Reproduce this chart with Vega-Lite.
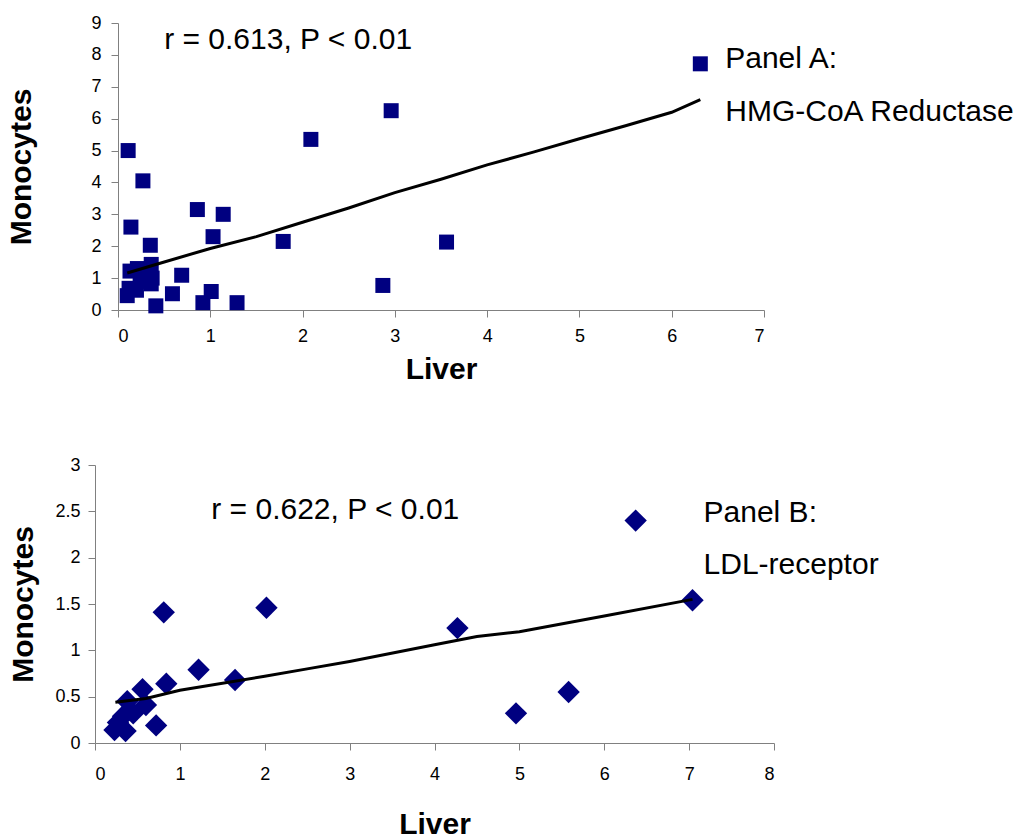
{
  "$schema": "https://vega.github.io/schema/vega-lite/v6.json",
  "background": "white",
  "padding": {"left": 6, "top": 14, "right": 2, "bottom": 0},
  "config": {
    "view": {"stroke": null},
    "axis": {
      "grid": false,
      "domainColor": "#808080",
      "tickColor": "#808080",
      "tickSize": 7,
      "labelOverlap": false,
      "labelFont": "Liberation Sans",
      "labelFontSize": 18,
      "labelColor": "black",
      "titleFont": "Liberation Sans",
      "titleFontSize": 30,
      "titleFontWeight": "bold",
      "titleColor": "black"
    },
    "text": {"font": "Liberation Sans", "fontSize": 30, "color": "black"}
  },
  "datasets": {
    "panelA": [
      {"liver": 6.31, "monocytes": 7.72},
      {"liver": 2.96, "monocytes": 6.25},
      {"liver": 2.09, "monocytes": 5.35},
      {"liver": 0.11, "monocytes": 5.0},
      {"liver": 0.27, "monocytes": 4.05},
      {"liver": 0.86, "monocytes": 3.15},
      {"liver": 1.14, "monocytes": 3.0},
      {"liver": 0.14, "monocytes": 2.6},
      {"liver": 1.03, "monocytes": 2.3},
      {"liver": 0.35, "monocytes": 2.03},
      {"liver": 1.79, "monocytes": 2.15},
      {"liver": 3.56, "monocytes": 2.13},
      {"liver": 2.87, "monocytes": 0.77},
      {"liver": 0.69, "monocytes": 1.09},
      {"liver": 0.59, "monocytes": 0.51},
      {"liver": 1.01, "monocytes": 0.58},
      {"liver": 0.92, "monocytes": 0.23},
      {"liver": 1.29, "monocytes": 0.23},
      {"liver": 0.41, "monocytes": 0.13},
      {"liver": 0.10, "monocytes": 0.45},
      {"liver": 0.12, "monocytes": 0.68},
      {"liver": 0.13, "monocytes": 1.22},
      {"liver": 0.21, "monocytes": 1.3},
      {"liver": 0.24, "monocytes": 0.9},
      {"liver": 0.30, "monocytes": 1.18},
      {"liver": 0.36, "monocytes": 1.43},
      {"liver": 0.37, "monocytes": 1.0},
      {"liver": 0.36, "monocytes": 0.82},
      {"liver": 0.20, "monocytes": 0.62}
    ],
    "trendA": [
      {"liver": 0.1, "monocytes": 1.16},
      {"liver": 0.4, "monocytes": 1.42},
      {"liver": 1.0, "monocytes": 1.93},
      {"liver": 1.5, "monocytes": 2.3},
      {"liver": 2.0, "monocytes": 2.75},
      {"liver": 2.5, "monocytes": 3.2},
      {"liver": 3.0, "monocytes": 3.68},
      {"liver": 3.5, "monocytes": 4.1},
      {"liver": 4.0, "monocytes": 4.55},
      {"liver": 4.5, "monocytes": 4.95},
      {"liver": 5.0, "monocytes": 5.37},
      {"liver": 5.5, "monocytes": 5.78},
      {"liver": 6.0, "monocytes": 6.2},
      {"liver": 6.31, "monocytes": 6.6}
    ],
    "textA": [
      {"liver": 0.5, "monocytes": 8.47, "label": "r = 0.613, P < 0.01"},
      {"liver": 6.58, "monocytes": 7.87, "label": "Panel A:"},
      {"liver": 6.58, "monocytes": 6.2, "label": "HMG-CoA Reductase"}
    ],
    "panelB": [
      {"liver": 0.81, "monocytes": 1.41},
      {"liver": 2.02, "monocytes": 1.46},
      {"liver": 1.22, "monocytes": 0.79},
      {"liver": 1.65, "monocytes": 0.68},
      {"liver": 0.84, "monocytes": 0.64},
      {"liver": 0.56, "monocytes": 0.58},
      {"liver": 0.38, "monocytes": 0.45},
      {"liver": 0.6, "monocytes": 0.41},
      {"liver": 0.45, "monocytes": 0.32},
      {"liver": 0.33, "monocytes": 0.29},
      {"liver": 0.27, "monocytes": 0.22},
      {"liver": 0.72, "monocytes": 0.19},
      {"liver": 0.23, "monocytes": 0.14},
      {"liver": 0.36, "monocytes": 0.13},
      {"liver": 4.27, "monocytes": 1.24},
      {"liver": 4.96, "monocytes": 0.32},
      {"liver": 5.58, "monocytes": 0.55},
      {"liver": 6.37, "monocytes": 2.4},
      {"liver": 7.04, "monocytes": 1.54}
    ],
    "trendB": [
      {"liver": 0.24, "monocytes": 0.44},
      {"liver": 0.6, "monocytes": 0.48},
      {"liver": 1.0, "monocytes": 0.57},
      {"liver": 2.0, "monocytes": 0.72},
      {"liver": 2.5, "monocytes": 0.8},
      {"liver": 3.0, "monocytes": 0.88},
      {"liver": 4.0, "monocytes": 1.06},
      {"liver": 4.5, "monocytes": 1.15},
      {"liver": 5.0, "monocytes": 1.2},
      {"liver": 6.0, "monocytes": 1.37},
      {"liver": 7.04, "monocytes": 1.55}
    ],
    "textB": [
      {"liver": 1.37, "monocytes": 2.51, "label": "r = 0.622, P < 0.01"},
      {"liver": 7.17, "monocytes": 2.48, "label": "Panel B:"},
      {"liver": 7.17, "monocytes": 1.92, "label": "LDL-receptor"}
    ]
  },
  "concat": [
    {
      "width": 669,
      "height": 287,
      "layer": [
        {
          "data": {"name": "panelA"},
          "mark": {"type": "point", "shape": "square", "filled": true, "size": 225, "color": "#000080", "opacity": 1},
          "encoding": {
            "x": {"field": "liver", "type": "quantitative", "scale": {"domain": [0, 7], "nice": false, "range": [23, 669]},
                  "axis": {"title": "Liver", "tickCount": 7, "labelOverlap": false, "labelPadding": 10, "titlePadding": 9}},
            "y": {"field": "monocytes", "type": "quantitative", "scale": {"domain": [0, 9], "nice": false},
                  "axis": {"title": "Monocytes", "tickCount": 9, "labelOverlap": false, "offset": -23, "labelPadding": 10, "titlePadding": 54}}
          }
        },
        {
          "data": {"name": "trendA"},
          "mark": {"type": "line", "color": "black", "strokeWidth": 3},
          "encoding": {
            "x": {"field": "liver", "type": "quantitative"},
            "y": {"field": "monocytes", "type": "quantitative"}
          }
        },
        {
          "data": {"name": "textA"},
          "mark": {"type": "text", "align": "left", "baseline": "middle"},
          "encoding": {
            "x": {"field": "liver", "type": "quantitative"},
            "y": {"field": "monocytes", "type": "quantitative"},
            "text": {"field": "label"}
          }
        }
      ]
    },
    {
      "width": 679,
      "height": 278,
      "layer": [
        {
          "data": {"name": "panelB"},
          "mark": {"type": "point", "shape": "diamond", "filled": true, "size": 500, "color": "#000080", "opacity": 1},
          "encoding": {
            "x": {"field": "liver", "type": "quantitative", "scale": {"domain": [0, 8], "nice": false},
                  "axis": {"title": "Liver", "tickCount": 8, "labelOverlap": false, "labelPadding": 15, "titlePadding": 26}},
            "y": {"field": "monocytes", "type": "quantitative", "scale": {"domain": [0, 3], "nice": false},
                  "axis": {"title": "Monocytes", "values": [0, 0.5, 1, 1.5, 2, 2.5, 3], "format": "~g", "labelOverlap": false, "labelPadding": 8, "titlePadding": 16}}
          }
        },
        {
          "data": {"name": "trendB"},
          "mark": {"type": "line", "color": "black", "strokeWidth": 3},
          "encoding": {
            "x": {"field": "liver", "type": "quantitative"},
            "y": {"field": "monocytes", "type": "quantitative"}
          }
        },
        {
          "data": {"name": "textB"},
          "mark": {"type": "text", "align": "left", "baseline": "middle"},
          "encoding": {
            "x": {"field": "liver", "type": "quantitative"},
            "y": {"field": "monocytes", "type": "quantitative"},
            "text": {"field": "label"}
          }
        }
      ]
    }
  ],
  "columns": 1,
  "align": "none",
  "spacing": 72
}
